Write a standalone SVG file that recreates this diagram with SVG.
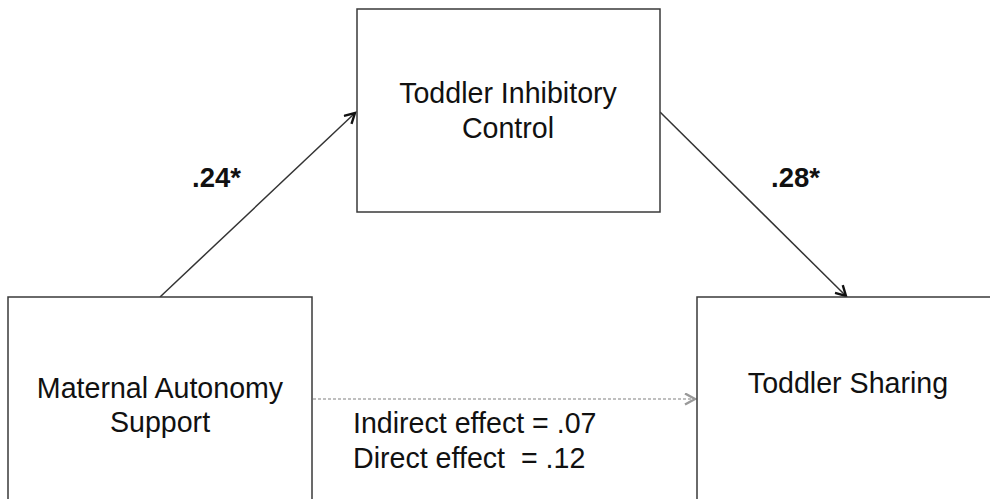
<svg xmlns="http://www.w3.org/2000/svg" width="990" height="499" viewBox="0 0 990 499">
<defs>
<style>
.box{fill:#fff;stroke:#3a3a3a;stroke-width:1.5}
.t{font-family:"Liberation Sans",Arial,sans-serif;font-size:28.6px;fill:#111;text-anchor:middle}
.l{font-family:"Liberation Sans",Arial,sans-serif;font-size:28.6px;fill:#111}
.b{font-family:"Liberation Sans",Arial,sans-serif;font-size:27.5px;font-weight:bold;fill:#111}
.c{fill:none;stroke:#333;stroke-width:1.5}
.d{fill:none;stroke:#aaa;stroke-width:1.5;stroke-dasharray:3 2}
</style>
<marker id="ah" markerWidth="15" markerHeight="15" refX="11" refY="6.5" orient="auto" markerUnits="userSpaceOnUse">
<path d="M1,1 L11,6.5 L1,12" fill="none" stroke="#111" stroke-width="2.4"/>
</marker>
<marker id="ahg" markerWidth="15" markerHeight="15" refX="11" refY="6.5" orient="auto" markerUnits="userSpaceOnUse">
<path d="M1,1 L11,6.5 L1,12" fill="none" stroke="#999" stroke-width="2.4"/>
</marker>
</defs>
<rect width="990" height="499" fill="#fff"/>
<g id="connectors">
<line class="c" x1="160" y1="297" x2="355" y2="113" marker-end="url(#ah)"/>
<line class="c" x1="660" y1="112" x2="846" y2="296" marker-end="url(#ah)"/>
<line class="d" x1="313" y1="399" x2="695" y2="399" marker-end="url(#ahg)"/>
</g>
<g id="node-inhibitory">
<rect class="box" x="357" y="9" width="303" height="203"/>
<text class="t" x="508" y="103">Toddler Inhibitory</text>
<text class="t" x="508" y="138">Control</text>
</g>
<g id="node-maternal">
<rect class="box" x="8" y="297" width="304" height="220"/>
<text class="t" x="160" y="398">Maternal Autonomy</text>
<text class="t" x="160" y="432">Support</text>
</g>
<g id="node-sharing">
<rect class="box" x="697" y="297" width="310" height="220"/>
<text class="t" x="848" y="393">Toddler Sharing</text>
</g>
<g id="labels">
<text class="b" x="192" y="187">.24*</text>
<text class="b" x="771" y="187">.28*</text>
<text class="l" x="353" y="433">Indirect effect = .07</text>
<text class="l" x="353" y="468" xml:space="preserve">Direct effect  = .12</text>
</g>
</svg>
